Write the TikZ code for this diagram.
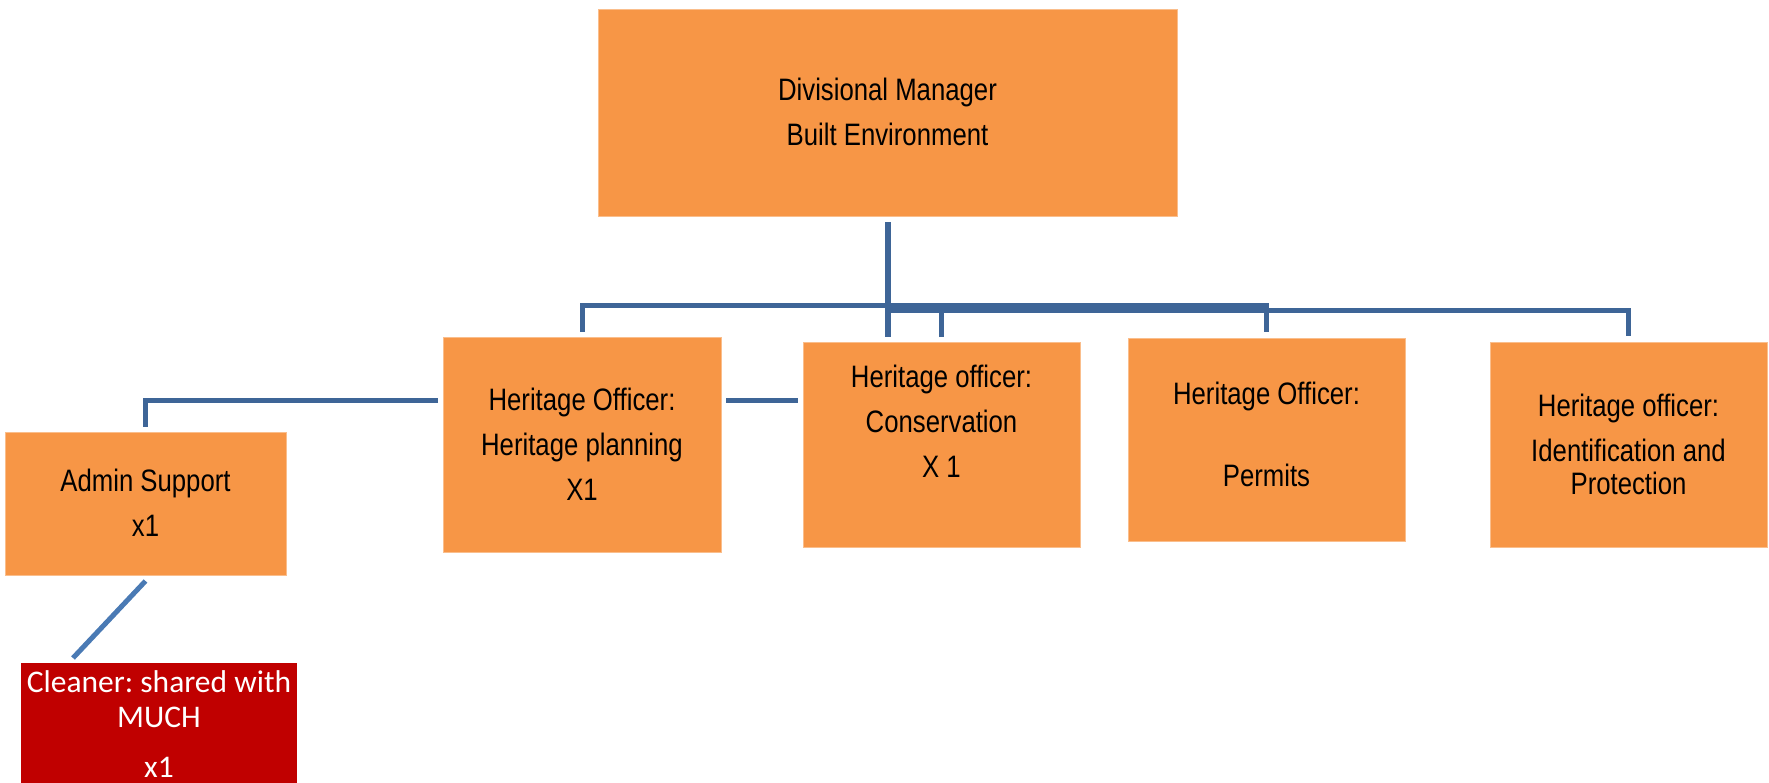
\documentclass[tikz,border=0pt]{standalone}
\usepackage{fontspec}
\setmainfont{Liberation Sans}
\newfontfamily\narrowfont[FakeStretch=0.83]{Liberation Sans}
\newfontfamily\calfont{Carlito}
\frenchspacing
\definecolor{boxorange}{RGB}{247,150,70}
\definecolor{boxedge}{RGB}{250,190,140}
\definecolor{cleanerred}{RGB}{192,0,0}
\definecolor{connblue}{RGB}{62,101,151}
\definecolor{diagblue}{RGB}{74,122,180}
\newcommand\mystrut{\rule[-0.25em]{0pt}{1.2em}}
\newcommand\calstrut{\rule[-0.2em]{0pt}{1.04em}}
\tikzset{
  box/.style={fill=boxorange, draw=boxedge, line width=0.8pt, inner sep=0pt, outer sep=0pt,
    align=center, text=black, font=\narrowfont\fontsize{31}{45}\selectfont},
  redbox/.style={fill=cleanerred, draw=none, inner sep=0pt, outer sep=0pt,
    align=center, text=white, font=\calfont\fontsize{31.5}{35}\selectfont},
  conn/.style={draw=connblue, line width=5pt},
  trunk/.style={draw=connblue, line width=6pt},
  diag/.style={draw=diagblue, line width=5pt},
}
\begin{document}
\begin{tikzpicture}[x=1pt,y=-1pt]
\useasboundingbox (0,0) rectangle (1769,782);

\node[box, minimum width=579pt, minimum height=207pt] (dm) at (887.5,112.5)
  {\mystrut Divisional Manager\\\mystrut Built Environment};
\node[box, minimum width=278pt, minimum height=215pt] (hp) at (582,444.5)
  {\mystrut Heritage Officer:\\\mystrut Heritage planning\\\mystrut X1};
\node[box, minimum width=277pt, minimum height=205pt] (cons) at (941.5,444.5)
  {\mystrut Heritage officer:\\\mystrut Conservation\\\mystrut X 1\\\mystrut};
\node[box, minimum width=277pt, minimum height=203pt] (perm) at (1266.5,439.5)
  {\mystrut Heritage Officer:\\[37pt]\mystrut Permits\\[-36pt]\mystrut};
\node[box, minimum width=277pt, minimum height=205pt] (ident) at (1628.5,444.5)
  {\mystrut Heritage officer:\\\mystrut Identification and\\[-12pt]\mystrut Protection};
\node[box, minimum width=281pt, minimum height=143pt] (admin) at (145.5,503.5)
  {\mystrut Admin Support\\\mystrut x1};
\node[redbox, minimum width=276pt, minimum height=123pt] (cleaner) at (159,724.5)
  {\calstrut Cleaner: shared with\\\calstrut MUCH\\[15pt]\calstrut x1};

\coordinate (bus1) at (888,305.5);
\coordinate (bus2) at (888,310);

\draw[conn] (bus1) -| ([yshift=5pt]hp.north);
\draw[conn] (bus1) -| ([yshift=6pt]perm.north);
\draw[conn] (bus2) -| ([yshift=6pt]ident.north);
\draw[conn] ([yshift=5pt]cons.north) -- (cons.north |- bus2);
\draw[trunk] ([yshift=-6pt]dm.south) -- ([yshift=5pt]dm.south |- cons.north);
\draw[conn] ([xshift=-5pt,yshift=44.5pt]hp.west) -| ([yshift=5pt]admin.north);
\draw[conn] ([xshift=5pt,yshift=44.5pt]hp.east) -- ([xshift=-5pt,yshift=44.5pt]cons.west);
\draw[diag] ([yshift=-6pt]admin.south) -- ([xshift=-86pt,yshift=5pt]cleaner.north);
\end{tikzpicture}
\end{document}
